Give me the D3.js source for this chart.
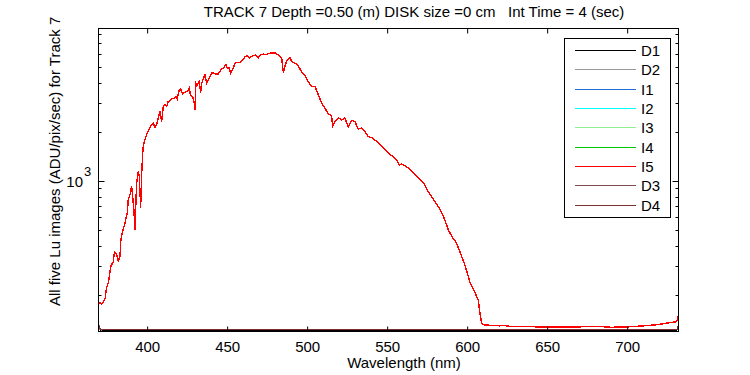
<!DOCTYPE html>
<html><head><meta charset="utf-8">
<script src="https://cdn.jsdelivr.net/npm/d3@7"></script>
<style>
html,body{margin:0;padding:0;background:#fff;}
svg text{font-family:"Liberation Sans",Arial,sans-serif;fill:#000;}
</style></head>
<body><svg id="c" width="750" height="375"></svg>
<script>
// ---- data ----
const titleText = "TRACK 7 Depth =0.50 (m) DISK size =0 cm\u00a0\u00a0\u00a0Int Time = 4 (sec)";
const xLabel = "Wavelength (nm)";
const yLabel = "All five Lu images (ADU/pix/sec) for Track 7";
const xTicks = [400, 450, 500, 550, 600, 650, 700];
const yMajorTicks = [1000];
const yMinorTicks = [200,300,400,500,600,700,800,900,2000,3000,4000,5000,6000,7000,8000];
const xDomain = [369.6, 732.7];
const yDomain = [120, 8650];

const seriesNames = ["D1","D2","I1","I2","I3","I4","I5","D3","D4"];
const seriesColors = ["#000000","#999999","#1f6fd6","#00ffff","#90f090","#00c800","#ff0000","#7f4f4f","#7f2f2f"];

// wavelength grid of the bright (illuminated) spectra
const wlBright = [370,371,372,373,374,375,376,377,377.7,379.1,379.6,380.2,381.3,382.2,383.3,383.9,384.75,386.4,387.9,388.5,389.6,390.6,391.25,392.1,392.7,393.1,393.75,394.75,395.4,395.8,396.25,396.9,397.5,397.9,398.9,400.4,401.6,403.1,404.1,405.2,406.25,407.25,408.3,409.4,410.4,411.4,412.5,413.5,414.6,415.6,417.1,418.3,419.1,420.4,421.25,422.5,423.9,425.4,426.6,427.5,428.75,429.6,430.2,430.8,431.6,432.9,433.75,434.4,435.4,436.4,437.5,438.5,439.6,440.6,441.6,443.3,444.75,445.8,446.9,447.9,449.6,450.4,451.6,452.5,453.75,455.2,456.25,458.3,460,461.4,462.9,464.6,465.6,467.1,468.3,469.75,471.25,472.9,474.6,476,477.5,479.1,480.6,481.9,483.3,484.4,485,485.5,486.4,487.5,488.5,489.6,490.6,491.6,493.3,494.75,496.25,497.5,498.9,501,503.1,505.2,507.25,509.4,511.4,513.5,515.6,516.25,517.7,519.75,521.9,523.9,526,528.1,530.2,532.25,534.4,536.4,538.5,541.25,543.75,545.8,547.9,550,552.1,554.1,556.25,557.9,559.4,561.4,563.5,565.6,567.7,569.75,571.9,573.9,576,578.1,580.2,582.25,584.4,586.4,588.5,590,591.6,593.3,595.8,598.9,602,605.2,607.25,608.3,609.4,610.4,614.6,620.8,622.7,627,650,685,690,700,710.4,718.75,722.9,727.1,731.25,732.25];
// I5 (red, drawn on top); I1..I4 overlap it within a pixel
const luI5 = [179,178,175,182,189,222,236,272,302,317,352,365,352,322,343,435,478,550,634,764,821,923,801,648,500,664,968,1140,1062,881,680,1115,1445,1622,1786,1963,2075,2207,2260,2135,2207,2427,2661,2311,2857,2926,2857,3067,3097,3172,3215,3290,3172,3615,3653,3420,3483,3533,3705,3322,3290,3067,2728,3974,3881,4064,3483,3974,4206,4467,3974,4168,4365,4581,4581,4519,4519,4688,4864,4911,5152,4911,4911,4581,4842,5224,5321,5321,5470,5741,5848,5662,5794,5875,5902,5662,5929,5984,5929,6012,6068,6068,6068,5929,5821,5662,5023,4581,5023,5445,5600,5702,5395,5321,5224,5058,4775,4581,4406,4064,3793,3793,3371,2998,2793,2576,2504,2153,2311,2427,2366,2427,2135,2344,2311,2075,2104,2006,1870,1828,1742,1663,1588,1514,1445,1410,1346,1253,1271,1236,1197,1140,1088,1039,991,944,859,801,746,696,634,576,500,471,439,422,367,305,240,206,186,154,134,131,130,129,130,128,127,127.5,126.5,127,129,131,133,135,137,149];
const luI1 = luI5, luI2 = luI5, luI3 = luI5, luI4 = luI5;

// dark frames
const wlDark = [370,370.6,371.5,380,420,470,520,570,620,670,720,731.5,732.6];
const luD1 = [127,123,121.5,121.8,121.5,121.9,121.5,121.8,121.5,121.9,121.6,122,124];
const luD2 = [125,122.5,122,122.3,122.1,122.4,122.1,122.3,122.1,122.4,122.1,122.5,124];
const luD3 = [131,125,122.6,122.8,122.6,122.9,122.6,122.8,122.6,122.9,122.7,123,133];
const luD4 = [130,124,122.3,122.5,122.3,122.6,122.3,122.5,122.3,122.6,122.4,122.8,132];

// ---- drawing ----
const svg = d3.select("#c");
const L = 98, R = 679, T = 28, B = 331;
const FS = 15;
const x = d3.scaleLinear().domain(xDomain).range([L, R]);
const y = d3.scaleLog().domain(yDomain).range([B, T]);

svg.append("defs").append("clipPath").attr("id","clip")
  .append("rect").attr("x",L).attr("y",T).attr("width",R-L).attr("height",B-T);

const seriesData = {
  D1:[wlDark,luD1], D2:[wlDark,luD2], I1:[wlBright,luI1], I2:[wlBright,luI2],
  I3:[wlBright,luI3], I4:[wlBright,luI4], I5:[wlBright,luI5], D3:[wlDark,luD3], D4:[wlDark,luD4]
};
const line = d3.line().x(d=>x(d[0])).y(d=>y(d[1]));
const g = svg.append("g").attr("clip-path","url(#clip)");
const drawOrder = ["I1","I2","I3","I4","I5","D1","D2","D3","D4"];
drawOrder.forEach(n=>{
  const [w,v] = seriesData[n];
  const pts = w.map((wv,i)=>[wv,v[i]]);
  g.append("path").attr("d",line(pts)).attr("fill","none")
    .attr("stroke",seriesColors[seriesNames.indexOf(n)]).attr("stroke-width",1.4)
    .attr("shape-rendering","crispEdges");
});

// axes box
svg.append("rect").attr("x",L+0.5).attr("y",T+0.5).attr("width",R-L-1).attr("height",B-T)
  .attr("fill","none").attr("stroke","#000").attr("stroke-width",1);

// x ticks (inward, bottom and top) + labels
const xAxisB = d3.axisBottom(x).tickValues(xTicks).tickSize(-5).tickPadding(10).tickFormat(d3.format("d"));
const gxb = svg.append("g").attr("transform",`translate(0.5,${B+0.5})`).call(xAxisB);
gxb.select(".domain").remove();
gxb.selectAll("text").attr("font-size",FS).attr("font-family","Liberation Sans, Arial, sans-serif").attr("dy","0.75em").attr("y",9);
const xAxisT = d3.axisTop(x).tickValues(xTicks).tickSize(-5).tickFormat("");
const gxt = svg.append("g").attr("transform",`translate(0.5,${T+0.5})`).call(xAxisT);
gxt.select(".domain").remove();

// y ticks left/right
function yTicksAt(xpos, dir){
  const gy = svg.append("g");
  yMinorTicks.forEach(t=>{
    gy.append("line").attr("x1",xpos).attr("x2",xpos+dir*3)
      .attr("y1",Math.round(y(t))+0.5).attr("y2",Math.round(y(t))+0.5).attr("stroke","#000");
  });
  yMajorTicks.forEach(t=>{
    gy.append("line").attr("x1",xpos).attr("x2",xpos+dir*6)
      .attr("y1",Math.round(y(t))+0.5).attr("y2",Math.round(y(t))+0.5).attr("stroke","#000");
  });
}
yTicksAt(L+0.5, 1);
yTicksAt(R-0.5, -1);
yMajorTicks.forEach(t=>{
  const ty = y(t);
  const exp = Math.round(Math.log10(t));
  svg.append("text").attr("x",L-15).attr("y",ty+6).attr("text-anchor","end").attr("font-size",FS).text("10");
  svg.append("text").attr("x",L-14).attr("y",ty-5).attr("text-anchor","start").attr("font-size",13).text(String(exp));
});

// titles
svg.append("text").attr("x",414).attr("y",17).attr("text-anchor","middle").attr("font-size",FS).text(titleText);
svg.append("text").attr("x",404).attr("y",368).attr("text-anchor","middle").attr("font-size",FS).text(xLabel);
svg.append("text").attr("transform","translate(60,306) rotate(-90)").attr("text-anchor","start")
  .attr("font-size",FS).text(yLabel);

// legend
const lgX = 564.5, lgY = 38.5, lgW = 106, lgH = 179;
svg.append("rect").attr("x",lgX).attr("y",lgY).attr("width",lgW).attr("height",lgH)
  .attr("fill","#fff").attr("stroke","#000");
seriesNames.forEach((n,i)=>{
  const cy = Math.round(50 + i*19.33)+0.5;
  svg.append("line").attr("x1",575).attr("x2",636).attr("y1",cy).attr("y2",cy)
    .attr("stroke",seriesColors[i]).attr("stroke-width",1);
  svg.append("text").attr("x",641).attr("y",cy+5.5).attr("font-size",FS).text(n);
});
</script></body></html>
